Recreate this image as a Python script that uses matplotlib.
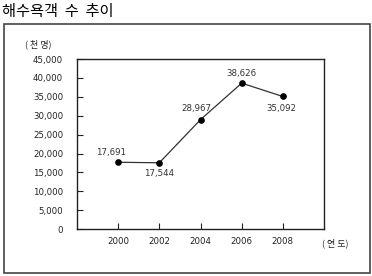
import matplotlib.pyplot as plt
from matplotlib.patches import Rectangle

plt.rcParams['font.family'] = ['Noto Sans CJK KR', 'DejaVu Sans']

# 데이터
years = [2000, 2002, 2004, 2006, 2008]
visitors = [17691, 17544, 28967, 38626, 35092]
value_labels = ['17,691', '17,544', '28,967', '38,626', '35,092']
yticks = [0, 5000, 10000, 15000, 20000, 25000, 30000, 35000, 40000, 45000]
ytick_labels = ['0', '5,000', '10,000', '15,000', '20,000', '25,000',
                '30,000', '35,000', '40,000', '45,000']

num_font = 'DejaVu Sans'

fig = plt.figure(figsize=(3.72, 2.76), dpi=100)
ax = fig.add_axes([0.207, 0.170, 0.664, 0.616])

ax.plot(years, visitors, color='#333333', linewidth=0.9,
        marker='o', markersize=3.8, markerfacecolor='black', markeredgecolor='black')

# 값 라벨 위치 (점 기준 오프셋, 포인트 단위)
offsets = [(-5, 7), (0, -8), (-3, 8), (0, 7), (-1, -9)]
for x, y, lab, off in zip(years, visitors, value_labels, offsets):
    ax.annotate(lab, (x, y), xytext=off, textcoords='offset points',
                ha='center', va='center', fontsize=6.2, color='#333333',
                family=num_font)

ax.set_xlim(1998, 2010)
ax.set_ylim(0, 45000)
ax.set_xticks(years)
ax.set_xticklabels([str(y) for y in years], family=num_font)
ax.set_yticks(yticks)
ax.set_yticklabels(ytick_labels, family=num_font)
ax.tick_params(direction='in', length=4, width=0.8, labelsize=6.2,
               colors='#222222', pad=10)
ax.tick_params(axis='x', pad=6)
for s in ax.spines.values():
    s.set_linewidth(1.0)
    s.set_color('#222222')

fig.text(0.104, 0.838, '( 천 명)', fontsize=6.5, ha='center', va='center', color='#222222')
fig.text(0.902, 0.120, '( 연 도)', fontsize=6.5, ha='center', va='center', color='#222222')
fig.text(0.006, 0.957, '해수욕객  수  추이', fontsize=11, ha='left', va='center', color='black')

# 바깥 테두리
fig.patches.append(Rectangle((0.0108, 0.0109), 0.984, 0.902, transform=fig.transFigure,
                             fill=False, edgecolor='#444444', linewidth=1.2))

fig.savefig('out.png', dpi=100)
